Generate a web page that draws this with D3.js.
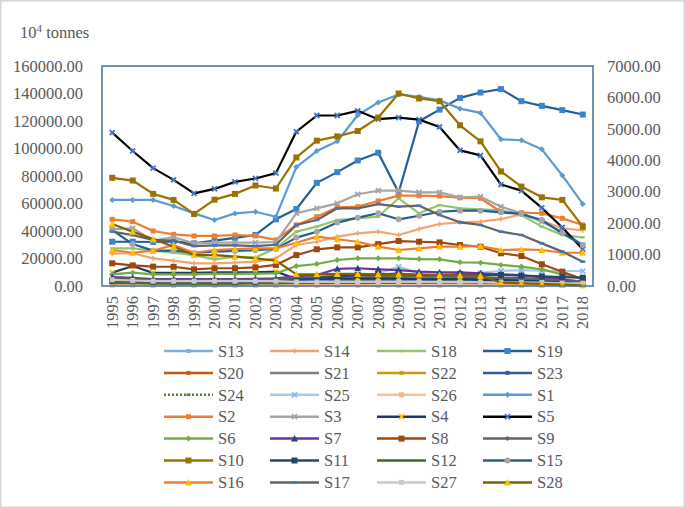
<!DOCTYPE html>
<html><head><meta charset="utf-8">
<script src="https://cdn.jsdelivr.net/npm/d3@7/dist/d3.min.js"></script>
<style>body{margin:0;background:#fff}svg{display:block}</style>
</head><body>
<svg id="c" width="685" height="508"></svg>
<script>
// ---------- DATA ----------
const years = ["1995","1996","1997","1998","1999","2000","2001","2002","2003","2004","2005","2006","2007","2008","2009","2010","2011","2012","2013","2014","2015","2016","2017","2018"];
const leftTicks = [0,20000,40000,60000,80000,100000,120000,140000,160000];
const rightTicks = [0,1000,2000,3000,4000,5000,6000,7000];
const yUnit = "tonnes";

const S13 = [3000,3000,2800,2800,2800,2800,2800,2800,3000,3500,4000,4500,4500,5000,5000,4500,4500,4500,4500,4000,4000,3500,3000,2500];
const S14 = [23500,23800,20100,18400,16500,16500,17000,17700,20100,29800,32200,35900,38300,39500,37100,41500,45100,46300,46800,48700,52000,47500,42000,40500];
const S18 = [27400,27400,25700,24200,22500,19400,21300,20800,27400,39500,43200,48000,49200,50400,63800,52900,58900,56500,55800,55000,51600,43200,37100,35400];
const S19 = [32200,32200,32000,32500,31000,33000,35000,37100,48500,56000,75000,82800,91300,96900,68000,119800,128300,136800,140700,143200,134400,131000,127900,124700];
const S20 = [1200,1200,1000,1000,1000,1000,1000,1000,1200,1500,1500,1800,1800,2000,2000,2000,2000,1800,1800,1500,1500,1200,1000,800];
const S21 = [2500,2500,2200,2200,2200,2200,2200,2200,2500,2800,3000,3500,3500,3800,3800,3500,3500,3500,3200,3000,2800,2500,2200,2000];
const S22 = [3000,3000,2800,2800,2800,2800,2800,3000,3000,5500,6500,7500,7000,6500,6500,6000,6000,6500,6000,4500,4000,3500,2500,1500];
const S23 = [4000,4000,3500,3500,3500,3500,3500,3500,4000,4500,5000,5000,5000,5000,5000,5000,5000,5500,5500,5500,5500,5000,3500,3000];
const S24 = [1500,1500,1500,1500,1500,1500,1500,1500,1500,2500,3000,3000,3200,3200,3200,3200,3200,3200,3000,3000,2800,2500,2000,1500];
const S25 = [4500,4500,4000,4000,4000,4000,4000,4000,4500,5000,5500,6500,7000,9000,14100,9000,8500,9000,9500,11000,11500,11000,10900,10900];
const S26 = [600,600,500,500,500,500,500,500,500,500,500,500,500,500,500,500,500,500,500,500,400,400,400,400];
const S1  = [62600,62600,62600,58200,52800,48000,52800,54000,50400,86500,98100,105200,124200,133500,139300,137600,135000,129000,125900,106700,106000,99400,80400,59700];
const S2  = [48500,46800,40000,37600,36400,36400,37100,36400,33500,44400,50400,57200,57700,61800,65700,65700,65400,64200,63800,54000,53300,52900,49200,44400];
const S3  = [41200,42000,33000,35500,31000,31500,31500,31500,32000,52900,56500,60100,66700,69300,69300,68100,68100,64500,65000,57700,52900,46800,39500,29800];
const S4  = [9700,14500,9500,9500,9500,10000,10000,10000,10500,5000,5000,5500,5500,5500,5500,5000,5000,5000,4500,4500,4000,3500,3000,2500];
const S5  = [111500,98200,85700,77200,67400,70600,75700,78200,82100,112300,124000,124000,127400,121300,122500,121000,115700,98600,95000,73800,69400,56800,42600,26800];
const S6  = [8500,9700,8500,8500,8500,8800,8800,9000,9200,14500,16000,18900,20100,20100,20100,19600,19400,17200,17000,15300,14100,12100,8500,5600];
const S7  = [6500,6000,5000,5000,5000,5000,5000,5200,5500,7000,8000,12500,12900,12100,11600,10400,10000,10000,9200,8500,8000,6300,4900,3000];
const S8  = [16500,15000,14100,14000,12100,12900,12900,13600,15300,22500,26700,28100,28100,30500,32700,32200,31700,29800,28600,23800,21800,15800,10400,4900];
const S9  = [5500,5000,4500,4500,4500,4500,4500,4500,5000,6000,6500,7000,7500,7500,7500,7000,7000,7000,6500,6000,5500,5000,4000,3500];
const S10 = [78700,76700,67000,62600,52400,62800,67000,73100,70900,93500,105700,108800,112700,122500,140000,136400,134400,116900,105200,83300,72300,64500,62600,43100];
const S11 = [3500,3500,3000,3000,3000,3000,3000,3000,3500,4500,5500,7000,8000,8500,9000,8000,8000,8500,8000,8000,7500,7000,6500,6000];
const S12 = [2000,2000,1800,1800,1800,1800,1800,2000,2000,2200,2200,2500,2500,2500,2500,2500,2500,2500,2500,2300,2300,2000,2000,1800];
const S15 = [40700,30500,25700,25700,24000,25000,25500,26000,27000,35200,39500,46100,49700,52900,48500,51100,54000,54800,54800,53600,52400,48000,38300,29800];
const S16 = [26200,24200,25700,29800,24200,26200,26900,27400,27400,31500,35900,34000,32200,28600,26200,27400,28600,28600,29100,26200,26600,26200,24200,24200];
const S17 = [39500,37000,33500,33000,29000,29500,29500,29000,30000,44400,48000,56500,56500,59600,57700,58400,51600,46300,44400,39500,37100,31000,25000,17700];
const S27 = [4500,4000,3500,3500,3500,3500,3500,3500,3500,3000,3000,3000,3000,3000,3000,3000,2800,2800,2800,2500,2500,2500,2000,2000];
const S28 = [45100,39500,34200,28600,22500,22500,21300,20100,18400,8500,8500,8800,8800,8500,8500,8300,8000,7800,7500,2500,2000,1500,1000,500];

const seriesNames = ["S13","S14","S18","S19","S20","S21","S22","S23","S24","S25","S26","S1","S2","S3","S4","S5","S6","S7","S8","S9","S10","S11","S12","S15","S16","S17","S27","S28"];
const seriesValues = [S13,S14,S18,S19,S20,S21,S22,S23,S24,S25,S26,S1,S2,S3,S4,S5,S6,S7,S8,S9,S10,S11,S12,S15,S16,S17,S27,S28];

// ---------- STYLES ----------
const styles = {
  S13:{c:"#7cafdd",m:"square",mc:"#7cafdd",ms:4},
  S14:{c:"#f4a46f",m:"plus",mc:"#f4a46f",ms:5},
  S18:{c:"#92c56f",m:"dash",mc:"#92c56f",ms:4},
  S19:{c:"#255e91",m:"square",mc:"#3a83cf",ms:6},
  S20:{c:"#c55a11",m:"square",mc:"#c55a11",ms:4},
  S21:{c:"#7f7f7f",m:"none"},
  S22:{c:"#c49a10",m:"square",mc:"#c49a10",ms:4},
  S23:{c:"#335aa1",m:"square",mc:"#335aa1",ms:4},
  S24:{c:"#548235",m:"dash",mc:"#548235",ms:4,dash:"2,2"},
  S25:{c:"#a9cbea",m:"x",mc:"#8fbce6",ms:5},
  S26:{c:"#f8c09a",m:"square",mc:"#f8b48a",ms:5},
  S1:{c:"#5b9bd5",m:"diamond",mc:"#5b9bd5",ms:5},
  S2:{c:"#ed7d31",m:"square",mc:"#ed7d31",ms:5},
  S3:{c:"#a5a5a5",m:"x",mc:"#a5a5a5",ms:5},
  S4:{c:"#1f3864",m:"x",mc:"#ffc000",ms:5},
  S5:{c:"#000000",m:"x",mc:"#4472c4",ms:5},
  S6:{c:"#70ad47",m:"diamond",mc:"#70ad47",ms:5},
  S7:{c:"#7030a0",m:"triangle",mc:"#264478",ms:6},
  S8:{c:"#9e480e",m:"square",mc:"#9e480e",ms:6},
  S9:{c:"#636363",m:"diamond",mc:"#636363",ms:4},
  S10:{c:"#997300",m:"square",mc:"#997300",ms:6},
  S11:{c:"#264478",m:"square",mc:"#264478",ms:6},
  S12:{c:"#43682b",m:"none"},
  S15:{c:"#255e91",m:"circle",mc:"#a5a5a5",ms:6},
  S16:{c:"#ed7d31",m:"triangle",mc:"#ffc000",ms:6},
  S17:{c:"#636363",m:"dash",mc:"#4472c4",ms:5},
  S27:{c:"#c9c9c9",m:"square",mc:"#c9c9c9",ms:5},
  S28:{c:"#7f6000",m:"triangle",mc:"#ffc000",ms:6}
};

// ---------- CHART ----------
const svg = d3.select("#c");
const W = 685, H = 508;
const plot = {l:102, r:593, t:66, b:286};
const font = "'Liberation Serif','Times New Roman',serif";
const txt = "#595959";

svg.append("rect").attr("x",0.75).attr("y",0.75).attr("width",W-1.5).attr("height",H-1.5)
  .attr("fill","#fff").attr("stroke","#d6d6d6").attr("stroke-width",1.5);

const x = d3.scaleBand().domain(years).range([plot.l, plot.r]);
const y = d3.scaleLinear().domain([0,160000]).range([plot.b, plot.t]);
const y2 = d3.scaleLinear().domain([0,7000]).range([plot.b, plot.t]);
const cx = d => x(d) + x.bandwidth()/2;

// axes (labels only)
const fmt = d3.format(".2f");
const gl = svg.append("g").attr("transform",`translate(${plot.l},0)`)
  .call(d3.axisLeft(y).tickValues(leftTicks).tickFormat(fmt).tickSize(0).tickPadding(19));
const gr = svg.append("g").attr("transform",`translate(${plot.r},0)`)
  .call(d3.axisRight(y2).tickValues(rightTicks).tickFormat(fmt).tickSize(0).tickPadding(14));
const gx = svg.append("g").attr("transform",`translate(0,${plot.b})`)
  .call(d3.axisBottom(x).tickSize(0).tickPadding(0));
[gl,gr,gx].forEach(g=>{g.select(".domain").remove();
  g.selectAll("text").attr("font-family",font).attr("font-size",16.5).attr("fill",txt);});
gx.selectAll("text").attr("text-anchor","end").attr("transform","translate(5.5,10) rotate(-90)").attr("dy",0).attr("y",0).attr("x",0);

// unit label
const ut = svg.append("text").attr("x",20).attr("y",38).attr("font-family",font).attr("font-size",16.5).attr("fill",txt);
ut.append("tspan").text("10");
ut.append("tspan").attr("font-size",11).attr("dy",-6).text("4");
ut.append("tspan").attr("dy",6).text(" " + yUnit);

// marker function
function marker(g, type, px, py, s, col){
  const h = s/2;
  if(type==="square") g.append("rect").attr("x",px-h).attr("y",py-h).attr("width",s).attr("height",s).attr("fill",col);
  else if(type==="diamond") g.append("path").attr("d",`M${px},${py-h-0.5}L${px+h+0.5},${py}L${px},${py+h+0.5}L${px-h-0.5},${py}Z`).attr("fill",col);
  else if(type==="triangle") g.append("path").attr("d",`M${px},${py-h-0.5}L${px+h+0.5},${py+h}L${px-h-0.5},${py+h}Z`).attr("fill",col);
  else if(type==="circle") g.append("circle").attr("cx",px).attr("cy",py).attr("r",h).attr("fill",col);
  else if(type==="x") g.append("path").attr("d",`M${px-h},${py-h}L${px+h},${py+h}M${px-h},${py+h}L${px+h},${py-h}`).attr("stroke",col).attr("stroke-width",1.8);
  else if(type==="plus") g.append("path").attr("d",`M${px-h},${py}L${px+h},${py}M${px},${py-h}L${px},${py+h}`).attr("stroke",col).attr("stroke-width",1.5);
  else if(type==="dash") g.append("rect").attr("x",px-h).attr("y",py-1.2).attr("width",s).attr("height",2.4).attr("fill",col);
}

// series lines
const gS = svg.append("g");
const line = d3.line().x((d,i)=>cx(years[i])).y(d=>y(d));
seriesNames.forEach((name,k)=>{
  const st = styles[name], vals = seriesValues[k];
  const g = gS.append("g");
  g.append("path").attr("d",line(vals)).attr("fill","none").attr("stroke",st.c)
    .attr("stroke-width",2.2).attr("stroke-linejoin","round")
    .attr("stroke-dasharray",st.dash||null);
  if(st.m!=="none") vals.forEach((v,i)=>marker(g,st.m,cx(years[i]),y(v),st.ms,st.mc));
});

// plot border
svg.append("rect").attr("x",plot.l).attr("y",plot.t).attr("width",plot.r-plot.l).attr("height",plot.b-plot.t)
  .attr("fill","none").attr("stroke","#41719c").attr("stroke-width",1.5);

// legend
const colX = [164,270,377,483], row0 = 351, rowH = 21.9;
const lg = svg.append("g");
seriesNames.forEach((name,k)=>{
  const st = styles[name];
  const lx = colX[k%4], ly = row0 + Math.floor(k/4)*rowH;
  const g = lg.append("g");
  g.append("line").attr("x1",lx).attr("x2",lx+49).attr("y1",ly).attr("y2",ly)
    .attr("stroke",st.c).attr("stroke-width",2.5).attr("stroke-dasharray",st.dash||null);
  if(st.m!=="none") marker(g,st.m,lx+24.5,ly,st.ms,st.mc);
  g.append("text").attr("x",lx+54).attr("y",ly).attr("dy","0.35em")
    .attr("font-family",font).attr("font-size",16.5).attr("fill",txt).text(name);
});
</script>
</body></html>
